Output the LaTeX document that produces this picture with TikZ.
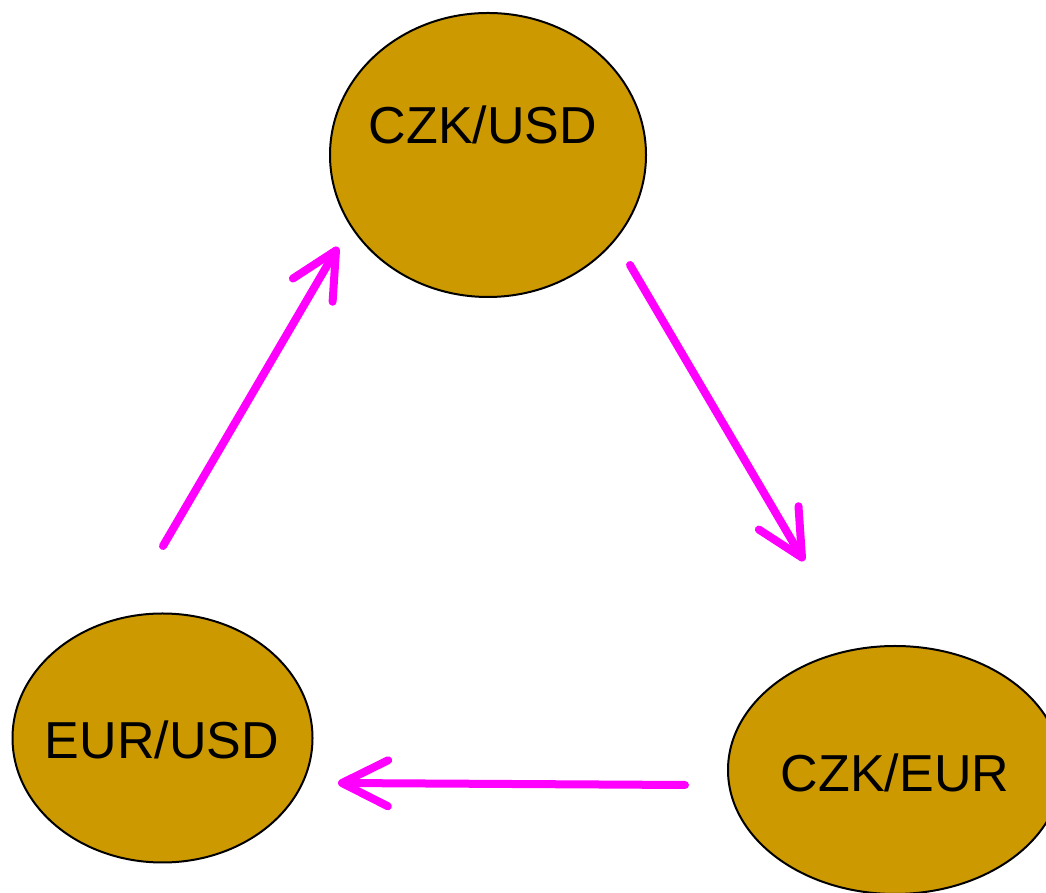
\documentclass[tikz,border=0pt]{standalone}
\usepackage{fontspec}
\setmainfont{Liberation Sans}
\usetikzlibrary{shapes.geometric,arrows.meta}
\definecolor{ochre}{HTML}{CC9900}
\definecolor{mag}{HTML}{FF00FF}
\begin{document}
\begin{tikzpicture}[x=1pt,y=1pt,
  ell/.style={ellipse,draw=black,line width=2pt,fill=ochre,inner sep=0pt},
  lbl/.style={font=\fontsize{52}{60}\selectfont,text=black},
  conn/.style={draw=mag,line width=8pt,line cap=round,
    -{Straight Barb[length=46pt,width=46pt,line cap=round,round]}}]
\useasboundingbox (0,0) rectangle (1046,893);
\clip (0,0) rectangle (1046,893);
% ellipses (y = 893 - pixel y)
\node[ell,minimum width=316pt,minimum height=284pt] (cu) at (488,738) {};
\node[lbl] (cut) at (483,768) {CZK/USD};
\node[ell,minimum width=300pt,minimum height=249pt] (eu) at (162.5,155) {};
\node[lbl] (eut) at (162,153) {EUR/USD};
\node[ell,minimum width=334pt,minimum height=248pt] (ce) at (895,123) {};
\node[lbl] (cet) at (895,120) {CZK/EUR};
% arrow endpoints
\coordinate (a1s) at (163,347);
\coordinate (a1e) at (338,646);
\coordinate (a2s) at (630,628);
\coordinate (a2e) at (804,332);
\coordinate (a3s) at (685,108);
\coordinate (a3e) at (338,110);
\draw[conn] (a1s) -- (a1e);
\draw[conn] (a2s) -- (a2e);
\draw[conn] (a3s) -- (a3e);
\end{tikzpicture}
\end{document}
